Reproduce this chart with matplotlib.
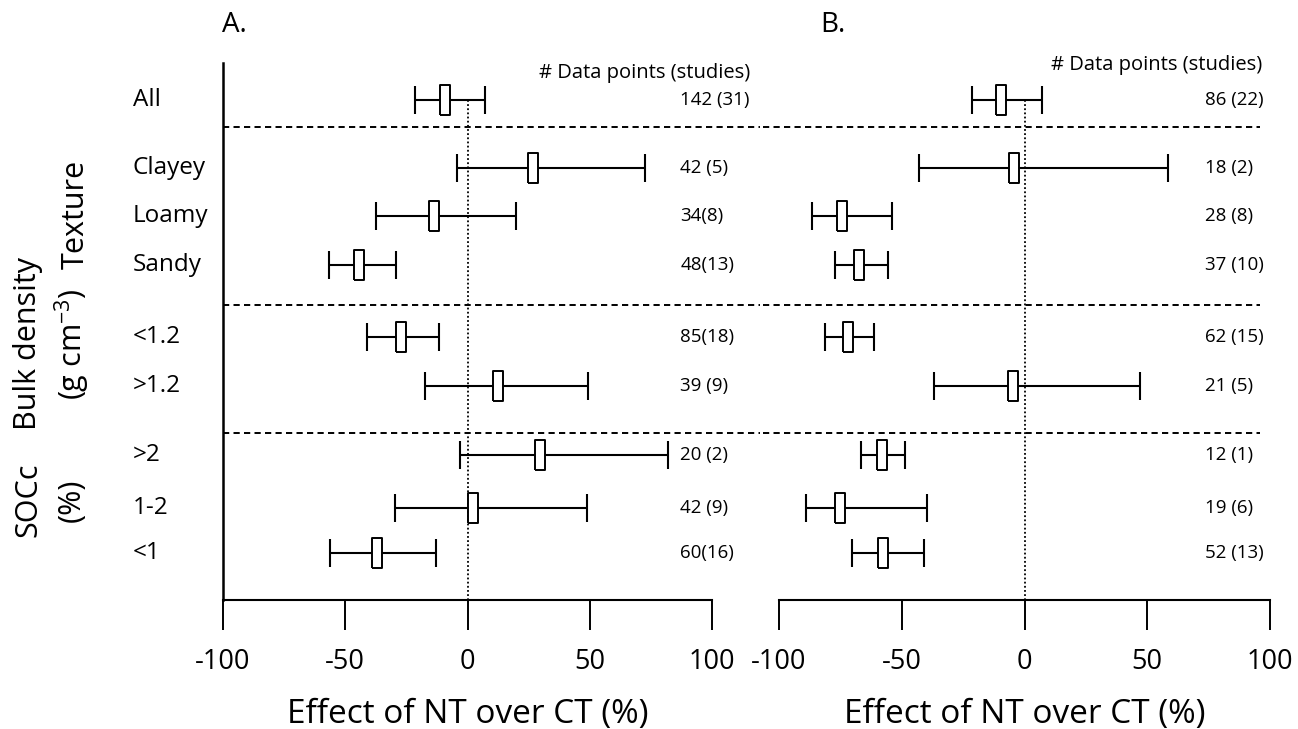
import matplotlib
matplotlib.use("Agg")
import matplotlib.pyplot as plt
from matplotlib.transforms import blended_transform_factory

plt.rcParams['font.family'] = ['Open Sans', 'DejaVu Sans']
plt.rcParams['mathtext.default'] = 'regular'

# data
categories = ["All", "Clayey", "Loamy", "Sandy", "<1.2", ">1.2", ">2", "1-2", "<1"]

a_lo = [-21.5, -4.4, -37.5, -56.8, -41.3, -17.3, -3.0, -29.6, -56.2]
a_mean = [-9.0, 26.8, -13.8, -44.4, -27.2, 12.3, 29.7, 2.3, -37.1]
a_hi = [7.1, 72.6, 19.7, -29.2, -11.7, 49.2, 81.8, 48.8, -12.7]
a_counts = ["142 (31)", "42 (5)", "34(8)", "48(13)", "85(18)", "39 (9)", "20 (2)", "42 (9)", "60(16)"]

b_lo = [-21.4, -43.1, -86.5, -77.0, -81.2, -36.8, -66.7, -88.9, -70.2]
b_mean = [-9.5, -4.2, -74.4, -67.4, -72.0, -4.6, -58.0, -75.3, -57.7]
b_hi = [7.1, 58.3, -53.8, -55.5, -61.4, 47.0, -48.5, -39.7, -41.0]
b_counts = ["86 (22)", "18 (2)", "28 (8)", "37 (10)", "62 (15)", "21 (5)", "12 (1)", "19 (6)", "52 (13)"]

xticks = [-100, -50, 0, 50, 100]

# layout (row positions, group separators)
rows = [0, 1.42, 2.42, 3.44, 4.94, 5.96, 7.4, 8.5, 9.44]
seps = [0.56, 4.27, 6.94]
ytop, ybot = -0.77, 10.42

W, H = 1298, 729
fig = plt.figure(figsize=(W / 100, H / 100), dpi=100)

axA = fig.add_axes([223 / W, 1 - 600 / H, 489 / W, 537 / H])
axB = fig.add_axes([779 / W, 1 - 600 / H, 491 / W, 537 / H])

box = [(-0.16, -0.5), (0.16, -0.5), (0.16, 0.5), (-0.16, 0.5), (-0.16, -0.5)]


def panel(ax, lo, mean, hi, counts, count_x, head_x, head_y, sep_x):
    ax.set_xlim(-100, 100)
    ax.set_ylim(ybot, ytop)
    for y, l, m, h in zip(rows, lo, mean, hi):
        ax.errorbar(m, y, xerr=[[m - l], [h - m]], fmt='none', ecolor='black',
                    elinewidth=1.5, capsize=10, capthick=1.5, zorder=3)
        ax.plot(m, y, marker=box, markersize=21.5, mfc='white', mec='black',
                mew=1.4, ls='none', zorder=4)
    for y, c in zip(rows, counts):
        ax.text(count_x, y, c, fontsize=13.5, ha='left', va='center', clip_on=False)
    ax.text(head_x, head_y, "# Data points (studies)", fontsize=14.5,
            ha='center', va='center', clip_on=False)
    for s in seps:
        ax.plot(sep_x, [s, s], color='black', lw=1.4, ls=(0, (3.2, 2.2)),
                clip_on=False)
    ax.vlines(0, rows[0], ybot, colors='black', lw=1.3, linestyles=(0, (1, 1.3)))
    for side in ['top', 'right']:
        ax.spines[side].set_visible(False)
    ax.spines['bottom'].set_linewidth(1.5)
    ax.spines['bottom'].set_bounds(-100, 100)
    ax.set_xticks(xticks)
    ax.set_xticklabels([str(t) for t in xticks])
    ax.set_yticks([])
    ax.tick_params(axis='x', direction='out', length=21.5, width=1.4, pad=13,
                   labelsize=19.5)
    ax.set_xlabel("Effect of NT over CT (%)", fontsize=24, labelpad=16)


panel(axA, a_lo, a_mean, a_hi, a_counts, 87, 72.5, -0.56, [-100, 119.5])
panel(axB, b_lo, b_mean, b_hi, b_counts, 73.5, 54, -0.73, [-106.5, 96])

axA.spines['left'].set_linewidth(1.8)
axB.spines['left'].set_visible(False)

# category labels
tr = blended_transform_factory(fig.transFigure, axA.transData)
for y, c in zip(rows, categories):
    fig.text(133 / W, y, c, transform=tr, fontsize=17.5, ha='left', va='center')

# group labels
fig.text(76 / W, 1 - 214 / H, "Texture", rotation=90, fontsize=22, ha='center', va='center')
fig.text(28 / W, 1 - 343 / H, "Bulk density", rotation=90, fontsize=22, ha='center', va='center')
fig.text(72 / W, 1 - 344 / H, "(g cm$^{-3}$)", rotation=90, fontsize=22, ha='center', va='center')
fig.text(28 / W, 1 - 500 / H, "SOCc", rotation=90, fontsize=22, ha='center', va='center')
fig.text(72 / W, 1 - 500 / H, "(%)", rotation=90, fontsize=22, ha='center', va='center')

# panel letters
fig.text(222 / W, 1 - 25 / H, "A.", fontsize=20, ha='left', va='center')
fig.text(820 / W, 1 - 25 / H, "B.", fontsize=20, ha='left', va='center')

fig.savefig("out.png", dpi=100)
